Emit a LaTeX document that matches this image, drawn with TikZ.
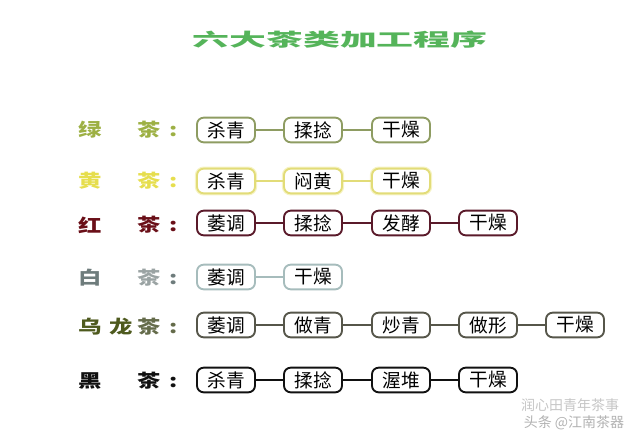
\documentclass[tikz,border=0pt]{standalone}
\usepackage{fontspec}
\usepackage{xcolor}
\newfontfamily\cjk{Noto Sans CJK SC}
\definecolor{titlegreen}{HTML}{55B45A}
\definecolor{lvlabel}{HTML}{9DB044}
\definecolor{lvline}{HTML}{8E9C62}
\definecolor{hglabel}{HTML}{E6DE4E}
\definecolor{hgline}{HTML}{E2DC78}
\definecolor{hglow}{HTML}{F6F3C4}
\definecolor{hclabel}{HTML}{6A0F18}
\definecolor{hcline}{HTML}{5A1A2A}
\definecolor{bclabel}{HTML}{6E7C7C}
\definecolor{bcline}{HTML}{A6BCBC}
\definecolor{wllabel}{HTML}{4E5A1E}
\definecolor{wlline}{HTML}{56564A}
\definecolor{hqline}{HTML}{111111}
\usetikzlibrary{arrows.meta}

\tikzset{
  stage/.style={draw, fill=white, rounded corners=5pt, line width=1.4pt,
    minimum width=43.5pt, minimum height=18.5pt, inner sep=0pt,
    text=black, font=\cjk\fontsize{14}{15}\selectfont},
  glowstage/.style={stage, preaction={draw=hglow, line width=3.2pt}},
  link/.style={line width=1.1pt},
  tealabel/.style={font=\cjk\bfseries\fontsize{13.5}{14}\selectfont, xscale=1.3, inner sep=0pt}
}

\begin{document}
\begin{tikzpicture}[x=0.75pt, y=-0.75pt]
  \useasboundingbox (0,0) rectangle (640,435);
  \node[font=\cjk\bfseries\fontsize{13.5}{14}\selectfont, text=titlegreen, xscale=2.05] (title) at (340,40) {六大茶类加工程序};

  % green tea
  \node[tealabel, text=lvlabel] (lv1) at (90,130) {绿};
  \node[tealabel, text=lvlabel] (lv2) at (149,130) {茶};
  \node[tealabel, text=lvlabel] (lvc) at (174,131) {:};
  \node[stage, draw=lvline] (lva) at (226,130) {杀青};
  \node[stage, draw=lvline] (lvb) at (313,130) {揉捻};
  \node[stage, draw=lvline] (lvd) at (401,130) {干燥};
  \draw[link, lvline] (lva) -- (lvb);
  \draw[link, lvline] (lvb) -- (lvd);

  % yellow tea
  \node[tealabel, text=hglabel] (hg1) at (90,181) {黄};
  \node[tealabel, text=hglabel] (hg2) at (149,181) {茶};
  \node[tealabel, text=hglabel] (hgc) at (174,182) {:};
  \node[glowstage, draw=hgline] (hga) at (226,181) {杀青};
  \node[glowstage, draw=hgline] (hgb) at (313,181) {闷黄};
  \node[glowstage, draw=hgline] (hgd) at (401,181) {干燥};
  \draw[link, hgline] (hga) -- (hgb);
  \draw[link, hgline] (hgb) -- (hgd);

  % red tea
  \node[tealabel, text=hclabel] (hc1) at (90,225) {红};
  \node[tealabel, text=hclabel] (hc2) at (149,225) {茶};
  \node[tealabel, text=hclabel] (hcc) at (174,226) {:};
  \node[stage, draw=hcline] (hca) at (226,223) {萎调};
  \node[stage, draw=hcline] (hcb) at (313,223) {揉捻};
  \node[stage, draw=hcline] (hcd) at (401,223) {发酵};
  \node[stage, draw=hcline] (hce) at (488,223) {干燥};
  \draw[link, hcline] (hca) -- (hcb);
  \draw[link, hcline] (hcb) -- (hcd);
  \draw[link, hcline] (hcd) -- (hce);

  % white tea
  \node[tealabel, text=bclabel] (bc1) at (90,278) {白};
  \node[tealabel, text=bclabel!70] (bc2) at (149,278) {茶};
  \node[tealabel, text=bclabel] (bcc) at (174,279) {:};
  \node[stage, draw=bcline] (bca) at (226,277) {萎调};
  \node[stage, draw=bcline] (bcb) at (313,277) {干燥};
  \draw[link, bcline] (bca) -- (bcb);

  % oolong
  \node[tealabel, text=wllabel] (wl1) at (90,327) {乌};
  \node[tealabel, text=wllabel] (wl2) at (121,327) {龙};
  \node[tealabel, text=wllabel!55!gray] (wl3) at (149,327) {茶};
  \node[tealabel, text=wllabel!55!gray] (wlc) at (174,328) {:};
  \node[stage, draw=wlline] (wla) at (226,325) {萎调};
  \node[stage, draw=wlline] (wlb) at (313,325) {做青};
  \node[stage, draw=wlline] (wld) at (401,325) {炒青};
  \node[stage, draw=wlline] (wle) at (488,325) {做形};
  \node[stage, draw=wlline] (wlf) at (575,325) {干燥};
  \draw[link, wlline] (wla) -- (wlb);
  \draw[link, wlline] (wlb) -- (wld);
  \draw[link, wlline] (wld) -- (wle);
  \draw[link, wlline] (wle) -- (wlf);

  % dark tea
  \node[tealabel, text=hqline] (hq1) at (90,381) {黑};
  \node[tealabel, text=hqline] (hq2) at (149,381) {茶};
  \node[tealabel, text=hqline] (hqc) at (174,382) {:};
  \node[stage, draw=hqline] (hqa) at (226,380) {杀青};
  \node[stage, draw=hqline] (hqb) at (313,380) {揉捻};
  \node[stage, draw=hqline] (hqd) at (401,380) {渥堆};
  \node[stage, draw=hqline] (hqe) at (488,380) {干燥};
  \draw[link, hqline] (hqa) -- (hqb);
  \draw[link, hqline] (hqb) -- (hqd);
  \draw[link, hqline] (hqd) -- (hqe);

  % watermark
  \node[font=\cjk\fontsize{10.5}{11}\selectfont, text=gray!45] (wm1) at (570,405) {润心田青年茶事};
  \node[font=\cjk\fontsize{10.5}{11}\selectfont, text=gray!60] (wm2) at (574,423) {头条 @江南茶器};
\end{tikzpicture}
\end{document}
